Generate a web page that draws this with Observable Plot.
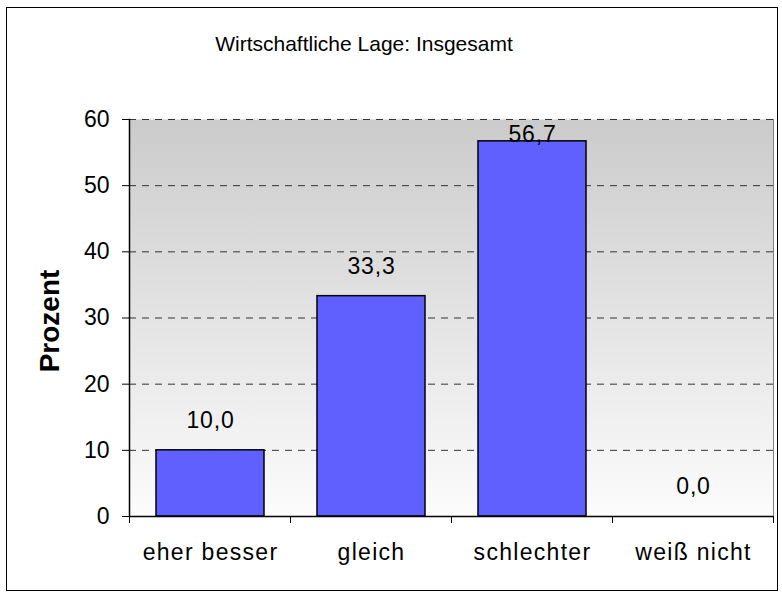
<!DOCTYPE html>
<html><head><meta charset="utf-8">
<script src="https://cdn.jsdelivr.net/npm/d3@7"></script>
<script src="https://cdn.jsdelivr.net/npm/@observablehq/plot@0.6"></script>
<style>
body{margin:0;background:#fff;font-family:Arial,"Liberation Sans",sans-serif;}
#wrap{position:relative;width:782px;height:595px;overflow:hidden;}
#border{position:absolute;left:6px;top:7px;width:772px;height:584px;border:1px solid #000;box-sizing:border-box;}
#title{position:absolute;left:0;top:32px;width:728px;text-align:center;font-size:21px;line-height:24px;color:#000;}
#chart{position:absolute;left:0;top:0;}
#chart g[aria-label="x-axis tick label"] text{letter-spacing:1.3px;}
#chart g[aria-label="text"].vals text{letter-spacing:0.8px;}
</style></head>
<body>
<div id="wrap">
<div id="border"></div>
<div id="title">Wirtschaftliche Lage: Insgesamt</div>
<div id="chart"></div>
</div>
<script>
const categories = ["eher besser", "gleich", "schlechter", "weiß nicht"];
const values = [10.0, 33.3, 56.7, 0.0];
const valueLabels = ["10,0", "33,3", "56,7", "0,0"];
const yTicks = [0, 10, 20, 30, 40, 50, 60];

const data = categories.map((c, i) => ({category: c, value: values[i], label: valueLabels[i]}));

const defs = () => {
  const d = d3.create("svg:defs");
  const g = d.append("linearGradient").attr("id", "bgGrad").attr("x1", 0).attr("y1", 0).attr("x2", 0).attr("y2", 1);
  g.append("stop").attr("offset", "0%").attr("stop-color", "#cbcbcb");
  g.append("stop").attr("offset", "100%").attr("stop-color", "#fcfcfc");
  return d.node();
};

const bandTicks = (index, scales) => {
  const x = scales.x, y = scales.y;
  const step = x.step(), bw = x.bandwidth();
  const xs = categories.map(c => x(c) - (step - bw) / 2);
  xs.push(x(categories[categories.length - 1]) + bw + (step - bw) / 2);
  const g = d3.create("svg:g");
  g.selectAll("line").data(xs).join("line")
    .attr("x1", d => d).attr("x2", d => d)
    .attr("y1", y(0)).attr("y2", y(0) + 7)
    .attr("stroke", "#000");
  return g.node();
};

const chart = Plot.plot({
  width: 782, height: 595,
  marginLeft: 129, marginRight: 9, marginTop: 119, marginBottom: 79,
  style: {fontFamily: "Arial, 'Liberation Sans', sans-serif", fontSize: "22px", color: "#000", background: "transparent", overflow: "visible"},
  x: {domain: categories, paddingInner: 0.33, paddingOuter: 0.165, axis: null},
  y: {domain: [0, 60], axis: null},
  marks: [
    defs,
    Plot.frame({fill: "url(#bgGrad)", stroke: null}),
    Plot.gridY(yTicks.filter(d => d > 0), {stroke: "#333", strokeOpacity: 1, strokeDasharray: "7,6"}),
    Plot.frame({anchor: "right", stroke: "#808080"}),
    Plot.barY(data, {x: "category", y: "value", fill: "#6060ff", stroke: "#000", strokeWidth: 1.5}),
    Plot.text(data, {x: "category", y: d => Math.min(d.value + 4.5, 57.7), text: "label", fontSize: 23, className: "vals"}),
    Plot.axisY(yTicks, {tickSize: 7, tickPadding: 13, fontSize: 23, stroke: "#000", label: null}),
    Plot.ruleY([0], {stroke: "#000", strokeWidth: 1.5}),
    Plot.frame({anchor: "left", stroke: "#000", strokeWidth: 1.5}),
    bandTicks,
    Plot.axisX({tickSize: 0, tickPadding: 27, fontSize: 23, label: null}),
    Plot.text(["Prozent"], {text: d => d, frameAnchor: "left", textAnchor: "middle", lineAnchor: "middle", rotate: -90, dx: -79, dy: 3, fontWeight: "bold", fontSize: 28})
  ]
});
document.getElementById("chart").appendChild(chart);
</script>
</body></html>
